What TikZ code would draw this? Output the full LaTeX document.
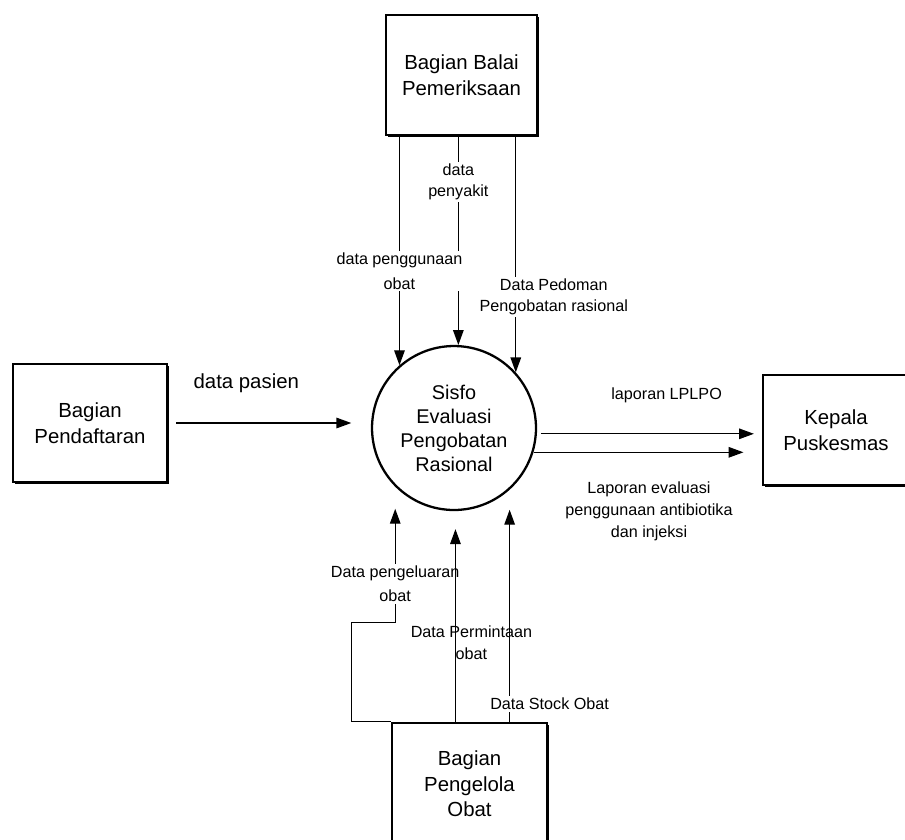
\documentclass[tikz,border=0pt]{standalone}
\usepackage{fontspec}
\setmainfont{Liberation Sans}
\usetikzlibrary{arrows.meta, shadows}

\begin{document}
\begin{tikzpicture}[
        x=0.02cm, y=-0.02cm,
        entity/.style={rectangle, draw=black, fill=white, line width=1.5pt, align=center, inner sep=2pt,
            font=\fontsize{11.6}{14.6}\selectfont,
            drop shadow={shadow xshift=1pt, shadow yshift=-1pt, fill=black, opacity=1}},
        process/.style={circle, draw=black, line width=1.3pt, align=center, inner sep=0pt,
            minimum size=3.28cm, font=\fontsize{11.3}{13.7}\selectfont},
        flow/.style={-{Triangle[length=8.5pt, width=6pt]}, line width=0.75pt},
        lbl/.style={align=center, fill=white, inner sep=1pt, font=\fontsize{9.2}{12}\selectfont},
        lblbare/.style={align=center, inner sep=1pt, font=\fontsize{9.2}{12.5}\selectfont}
    ]
        \useasboundingbox (0,0) rectangle (905,839);

        \node[entity, minimum width=3.02cm, minimum height=2.4cm] (balai) at (461.5,75) {Bagian Balai\\Pemeriksaan};
        \node[entity, minimum width=3.08cm, minimum height=2.36cm] (daftar) at (90,423) {Bagian\\Pendaftaran};
        \node[entity, minimum width=2.92cm, minimum height=2.2cm] (kepala) at (836,430) {Kepala\\Puskesmas};
        \node[entity, minimum width=3.1cm, minimum height=2.44cm] (pengelola) at (469.5,784) {Bagian\\Pengelola\\Obat};
        \node[process] (proc) at (454,428) {Sisfo\\Evaluasi\\Pengobatan\\Rasional};

        % dari bagian balai pemeriksaan
        \draw[flow] (proc.87 |- balai.south) -- node[lbl, pos=0.22] {data\\penyakit} (proc.87);
        \draw[flow] (proc.131 |- balai.south) -- node[lbl, pos=0.59, font=\fontsize{9.2}{14}\selectfont] {data penggunaan\\obat} (proc.131);
        \draw[flow] (proc.42 |- balai.south) -- node[lbl, pos=0.68, xshift=0.76cm] {Data Pedoman\\Pengobatan rasional} (proc.42);

        % pendaftaran
        \draw[flow] ([xshift=0.16cm]daftar.east) -- node[pos=0.4, yshift=0.8cm, font=\fontsize{11.6}{14}\selectfont] {data pasien} ++(175,0);

        % ke kepala puskesmas
        \draw[flow] ([xshift=0.08cm]proc.-4) -- node[lblbare, pos=0.59, yshift=0.76cm] {laporan LPLPO} ++(213,0);
        \draw[flow] (proc.-17) -- node[lblbare, pos=0.55, yshift=-1.18cm] {Laporan evaluasi\\penggunaan antibiotika\\dan injeksi} ++(210,0);

        % dari bagian pengelola obat
        \draw[flow] (pengelola.north west) -- ++(-39,0) -- ++(0,-99) -| node[lbl, pos=0.67, font=\fontsize{9.2}{13.5}\selectfont] {Data pengeluaran\\obat} ([yshift=-0.44cm]proc.225);
        \draw[flow] (proc.-89 |- pengelola.north) -- node[lblbare, pos=0.41, xshift=0.32cm] {Data Permintaan\\obat} ([yshift=-0.36cm]proc.-89);
        \draw[flow] (pengelola.north -| proc.-48) -- node[lbl, pos=0.084, xshift=0.8cm] {Data Stock Obat} ([yshift=-0.4cm]proc.-48);
    \end{tikzpicture}
\end{document}
